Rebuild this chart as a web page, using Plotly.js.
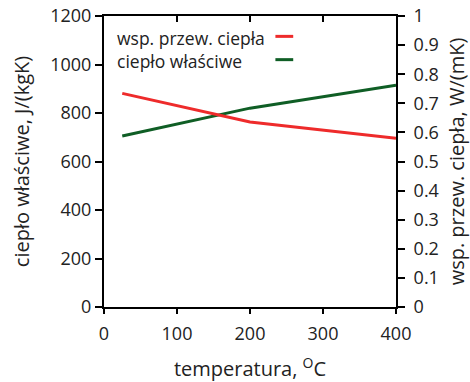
<!DOCTYPE html>
<html>
<head>
<meta charset="utf-8">
<script src="https://cdn.plot.ly/plotly-3.0.1.min.js"></script>
<style>html,body{margin:0;padding:0;background:#fff;}#chart{width:470px;height:382px;}</style>
</head>
<body>
<div id="chart"></div>
<script>
// Data
const temperature = [25, 200, 400];               // °C
const conductivity = [0.734, 0.636, 0.580];       // W/(mK) - right axis
const specificHeat = [705, 820, 915];             // J/(kgK) - left axis
const conductivityName = 'wsp. przew. ciepła';
const specificHeatName = 'ciepło właściwe';
const xTicks = [0, 100, 200, 300, 400];

const RED = '#ee2b2b';
const GREEN = '#0f5e25';
const FONT = 'Open Sans, sans-serif';
const TXT = '#222222';

const traces = [
  {x: temperature, y: conductivity, name: conductivityName, mode: 'lines', yaxis: 'y2',
   line: {color: RED, width: 3}},
  {x: temperature, y: specificHeat, name: specificHeatName, mode: 'lines', yaxis: 'y',
   line: {color: GREEN, width: 3}}
];

const axisCommon = {showgrid: false, zeroline: false, showline: true, linecolor: '#000', linewidth: 2,
  tickcolor: '#000', tickwidth: 2, tickfont: {family: FONT, size: 18, color: TXT}};

const layout = {
  width: 470, height: 382,
  margin: {l: 104, r: 74, t: 16, b: 75},
  paper_bgcolor: '#fff', plot_bgcolor: '#fff',
  showlegend: false,
  font: {family: FONT, color: TXT},
  xaxis: Object.assign({}, axisCommon, {range: [0, 400], tickvals: xTicks, ticks: 'outside', ticklen: 5,
    ticklabelstandoff: 4,
    title: {text: 'temperatura, <sup>O</sup>C', font: {family: FONT, size: 20, color: TXT}, standoff: 20}}),
  xaxis2: Object.assign({}, axisCommon, {range: [0, 400], tickvals: xTicks, overlaying: 'x', side: 'top',
    ticks: 'inside', ticklen: 6, showticklabels: false}),
  yaxis: Object.assign({}, axisCommon, {range: [0, 1200], dtick: 200, ticks: 'outside', ticklen: 7,
    title: {text: 'ciepło właściwe, J/(kgK)', font: {family: FONT, size: 20, color: TXT}, standoff: 15}}),
  yaxis2: Object.assign({}, axisCommon, {range: [0, 1], dtick: 0.1, overlaying: 'y', side: 'right',
    ticks: 'outside', ticklen: 7, ticklabelstandoff: 5,
    title: {text: 'wsp. przew. ciepła, W/(mK)', font: {family: FONT, size: 20, color: TXT}, standoff: 13}}),
  annotations: [
    {xref: 'paper', yref: 'paper', x: 0.038, y: 0.925, xanchor: 'left', yanchor: 'middle', showarrow: false,
     text: conductivityName, font: {family: FONT, size: 17.5, color: TXT}},
    {xref: 'paper', yref: 'paper', x: 0.038, y: 0.845, xanchor: 'left', yanchor: 'middle', showarrow: false,
     text: specificHeatName, font: {family: FONT, size: 17.5, color: TXT}}
  ],
  shapes: [
    {type: 'line', xref: 'paper', yref: 'paper', x0: 0.587, x1: 0.648, y0: 0.93, y1: 0.93, line: {color: RED, width: 3}},
    {type: 'line', xref: 'paper', yref: 'paper', x0: 0.587, x1: 0.648, y0: 0.85, y1: 0.85, line: {color: GREEN, width: 3}}
  ]
};

// invisible helper trace so that the mirrored top axis (inward ticks) is drawn
traces.push({x: [0], y: [0], xaxis: 'x2', yaxis: 'y', mode: 'markers', marker: {opacity: 0}, hoverinfo: 'skip', showlegend: false});

Plotly.newPlot('chart', traces, layout, {displayModeBar: false, staticPlot: true});
</script>
</body>
</html>
